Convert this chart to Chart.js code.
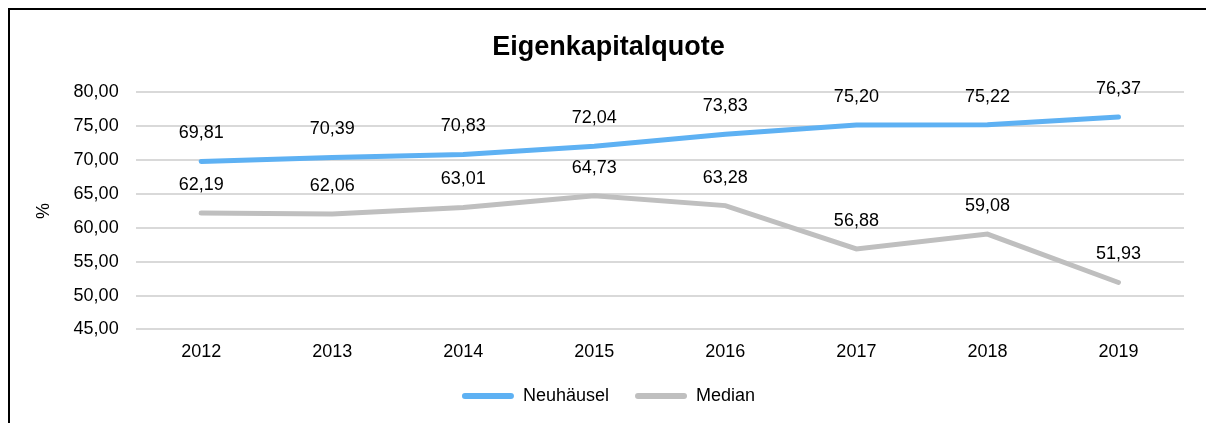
<!DOCTYPE html>
<html>
<head>
<meta charset="utf-8">
<script src="https://cdn.jsdelivr.net/npm/chart.js@4/dist/chart.umd.min.js"></script>
<style>
  html, body { margin: 0; padding: 0; background: #fff; overflow: hidden; }
  #wrap { position: relative; width: 1206px; height: 423px; }
  #frame { position: absolute; left: 8px; top: 8px; width: 1400px; height: 600px;
           border-left: 2px solid #000; border-top: 2px solid #000; pointer-events: none; }
</style>
</head>
<body>
<div id="wrap">
  <canvas id="eqChart" width="1206" height="423"></canvas>
  <div id="frame"></div>
</div>
<script>
const years = ["2012", "2013", "2014", "2015", "2016", "2017", "2018", "2019"];
const neuhaeusel = [69.81, 70.39, 70.83, 72.04, 73.83, 75.20, 75.22, 76.37];
const median = [62.19, 62.06, 63.01, 64.73, 63.28, 56.88, 59.08, 51.93];
const yTicks = [45, 50, 55, 60, 65, 70, 75, 80];

const fmt = v => v.toFixed(2).replace(".", ",");
const FONT = "'Liberation Sans', Arial, sans-serif";

// Werte über den Punkten ausgeben
const valueLabels = {
  id: "valueLabels",
  afterDatasetsDraw(chart) {
    const ctx = chart.ctx;
    ctx.save();
    ctx.font = "18px " + FONT;
    ctx.fillStyle = "#000";
    ctx.textAlign = "center";
    ctx.textBaseline = "middle";
    chart.data.datasets.forEach((ds, i) => {
      chart.getDatasetMeta(i).data.forEach((pt, j) => {
        ctx.fillText(fmt(ds.data[j]), pt.x, pt.y - 28);
      });
    });
    ctx.restore();
  }
};

const ctx = document.getElementById("eqChart");
new Chart(ctx, {
  type: "line",
  data: {
    labels: years,
    datasets: [
      {
        label: "Neuhäusel",
        data: neuhaeusel,
        borderColor: "#5eb1f3",
        backgroundColor: "#5eb1f3",
        borderWidth: 5,
        borderCapStyle: "round",
        pointRadius: 0,
        tension: 0
      },
      {
        label: "Median",
        data: median,
        borderColor: "#bfbfbf",
        backgroundColor: "#bfbfbf",
        borderWidth: 5,
        borderCapStyle: "round",
        pointRadius: 0,
        tension: 0
      }
    ]
  },
  options: {
    responsive: false,
    animation: false,
    layout: { padding: { left: 33, right: 22, top: 14, bottom: 8 } },
    plugins: {
      title: {
        display: true,
        text: "Eigenkapitalquote",
        color: "#000",
        font: { family: FONT, size: 27, weight: "bold" },
        padding: { top: 17, bottom: 29 }
      },
      legend: {
        position: "bottom",
        labels: {
          color: "#000",
          font: { family: FONT, size: 18 },
          boxWidth: 52,
          boxHeight: 6,
          padding: 26,
          useBorderRadius: true,
          borderRadius: 3,
          generateLabels: chart => Chart.defaults.plugins.legend.labels.generateLabels(chart)
            .map(item => Object.assign(item, { lineWidth: 0 }))
        }
      },
      tooltip: { enabled: false }
    },
    scales: {
      x: {
        offset: true,
        grid: { display: false, drawTicks: false },
        border: { display: false },
        ticks: { color: "#000", font: { family: FONT, size: 18 }, padding: 12 },
        afterFit: axis => { axis.height -= 14; }
      },
      y: {
        min: 45,
        max: 80,
        afterBuildTicks: axis => { axis.ticks = yTicks.map(v => ({ value: v })); },
        grid: { color: "#d9d9d9", lineWidth: 2, drawTicks: false },
        border: { display: false },
        title: { display: true, text: "%", color: "#000", font: { family: FONT, size: 18 }, padding: { top: 0, bottom: 2 } },
        ticks: { color: "#000", font: { family: FONT, size: 18 }, padding: 17, callback: v => fmt(v) }
      }
    }
  },
  plugins: [valueLabels]
});
</script>
</body>
</html>
